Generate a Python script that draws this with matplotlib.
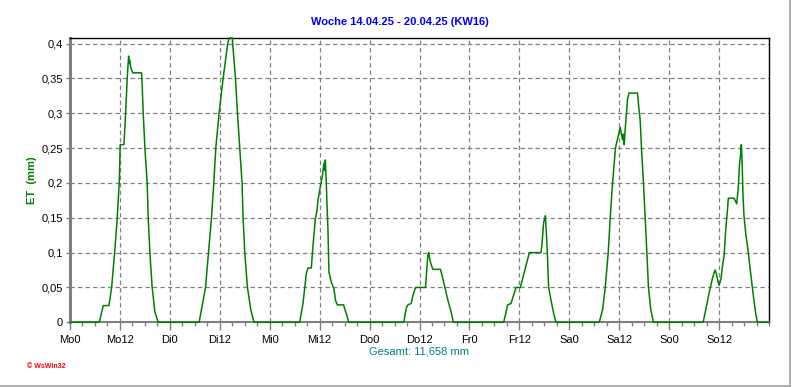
import matplotlib
matplotlib.use("Agg")
import matplotlib.pyplot as plt
from matplotlib.ticker import MultipleLocator, FuncFormatter
from matplotlib.lines import Line2D

plt.rcParams['font.family'] = ['Liberation Sans', 'DejaVu Sans']

# ---- data: (hour of day, ET mm) per day ----
day_names = ["Mo", "Di", "Mi", "Do", "Fr", "Sa", "So"]

mo_h = [7.03, 8.0, 9.36, 10.0, 10.73, 11.35, 11.83, 12.07, 12.96, 13.37, 13.75, 14.09, 14.23, 14.33, 14.64, 15.1, 17.2, 17.28, 17.6, 18.0, 18.55, 18.8, 19.2, 19.75, 20.4, 21.2]
mo_v = [0, 0.024, 0.024, 0.05, 0.1, 0.15, 0.2, 0.255, 0.255, 0.3, 0.35, 0.382, 0.372, 0.376, 0.365, 0.358, 0.358, 0.35, 0.3, 0.25, 0.2, 0.15, 0.1, 0.05, 0.015, 0]

di_h = [7.03, 8.57, 9.29, 10.0, 10.56, 11.04, 11.83, 12.8, 13.9, 14.3, 15.0, 15.1, 15.77, 16.25, 16.8, 17.35, 17.6, 18.0, 18.65, 19.45, 20.23]
di_v = [0, 0.05, 0.1, 0.15, 0.2, 0.25, 0.3, 0.35, 0.4, 0.408, 0.408, 0.4, 0.35, 0.3, 0.25, 0.2, 0.15, 0.1, 0.05, 0.018, 0]

mi_h = [7.2, 8.0, 8.8, 9.2, 10.0, 10.4, 10.96, 11.36, 11.6, 12.17, 12.65, 13.03, 13.2, 13.37, 13.6, 13.75, 14.0, 14.23, 14.8, 15.43, 15.84, 16.25, 17.76, 18.0, 18.65, 18.96]
mi_v = [0, 0.027, 0.07, 0.078, 0.078, 0.11, 0.148, 0.16, 0.175, 0.195, 0.21, 0.228, 0.218, 0.233, 0.2, 0.172, 0.133, 0.072, 0.058, 0.048, 0.031, 0.025, 0.025, 0.02, 0.008, 0]

do_h = [8.23, 8.8, 9.2, 10.0, 10.4, 11.04, 13.44, 13.75, 14.0, 14.23, 14.47, 14.8, 15.2, 17.04, 17.6, 18.16, 18.8, 19.6, 20.16]
do_v = [0, 0.02, 0.025, 0.027, 0.038, 0.05, 0.05, 0.075, 0.096, 0.1, 0.09, 0.083, 0.076, 0.076, 0.063, 0.049, 0.032, 0.015, 0]

fr_h = [8.23, 9.2, 10.0, 10.4, 11.2, 12.24, 14.4, 17.2, 17.45, 17.83, 18.24, 18.4, 18.55, 18.8, 19.03, 19.6, 20.23, 20.8]
fr_v = [0, 0.025, 0.027, 0.035, 0.05, 0.05, 0.1, 0.1, 0.113, 0.143, 0.153, 0.137, 0.122, 0.088, 0.05, 0.032, 0.013, 0]

sa_h = [7.2, 8.0, 8.64, 9.36, 9.84, 10.4, 11.1, 11.76, 12.24, 12.55, 12.8, 13.03, 13.2, 13.44, 13.75, 14.0, 14.33, 16.4, 16.63, 17.04, 17.35, 17.83, 18.24, 18.65, 19.03, 19.6, 20.23]
sa_v = [0, 0.018, 0.05, 0.1, 0.15, 0.2, 0.25, 0.267, 0.28, 0.27, 0.262, 0.27, 0.255, 0.277, 0.3, 0.32, 0.329, 0.329, 0.313, 0.29, 0.25, 0.2, 0.15, 0.1, 0.05, 0.018, 0]

so_h = [8.16, 8.8, 9.6, 10.4, 11.04, 11.36, 11.76, 12.0, 12.48, 12.8, 13.2, 13.6, 14.0, 14.23, 15.6, 16.0, 16.25, 16.63, 16.87, 17.2, 17.35, 17.52, 17.76, 18.0, 18.4, 19.03, 19.6, 20.16, 20.8, 21.2]
so_v = [0, 0.018, 0.042, 0.063, 0.075, 0.07, 0.058, 0.053, 0.063, 0.08, 0.095, 0.133, 0.16, 0.178, 0.178, 0.173, 0.17, 0.195, 0.223, 0.243, 0.255, 0.233, 0.18, 0.152, 0.128, 0.1, 0.07, 0.042, 0.013, 0]

days_h = [mo_h, di_h, mi_h, do_h, fr_h, sa_h, so_h]
days_v = [mo_v, di_v, mi_v, do_v, fr_v, sa_v, so_v]

tick_labels = [f"{d}{h}" for d in day_names for h in (0, 12)]
title = "Woche 14.04.25 - 20.04.25 (KW16)"
total_label = "Gesamt: 11,658 mm"

# build series in hours since Monday 0:00
xs = [0.0]
ys = [0.0]
for i, (hh, vv) in enumerate(zip(days_h, days_v)):
    xs += [i * 24 + h for h in hh]
    ys += list(vv)
xs.append(168.0)
ys.append(0.0)

W, H = 792, 387
fig = plt.figure(figsize=(W / 100, H / 100), dpi=100)
fig.patch.set_facecolor("white")

ax_l, ax_r, ax_t, ax_b = 70, 769, 38, 322.3
ax = fig.add_axes([ax_l / W, (H - ax_b) / H, (ax_r - ax_l) / W, (ax_b - ax_t) / H])
ax.set_facecolor("white")

ax.plot(xs, ys, color="#008000", lw=1.1, zorder=3, clip_on=False)

ax.set_xlim(0, 168)
ax.set_ylim(0, 0.408)

ax.xaxis.set_major_locator(MultipleLocator(12))
ax.xaxis.set_minor_locator(MultipleLocator(3))
ax.set_xticks(range(0, 168, 12))
ax.set_xticklabels(tick_labels)
ax.yaxis.set_major_locator(MultipleLocator(0.05))


def yfmt(v, pos):
    s = f"{v:.2f}".rstrip("0").rstrip(".")
    return s.replace(".", ",")


ax.yaxis.set_major_formatter(FuncFormatter(yfmt))

ax.grid(True, which="major", color="#808080", linestyle=(0, (3.5, 2.5)), lw=0.9, zorder=1)
ax.set_axisbelow(True)

for s in ("top", "right"):
    ax.spines[s].set_color("black")
    ax.spines[s].set_linewidth(1.0)
ax.spines["left"].set_color("#808080")
ax.spines["left"].set_linewidth(2.2)
ax.spines["bottom"].set_color("#808080")
ax.spines["bottom"].set_linewidth(1.5)

ax.tick_params(axis="x", which="major", direction="out", length=6, width=1, color="#808080",
               labelsize=8, pad=3, labelcolor="black")
ax.tick_params(axis="x", which="minor", direction="out", length=3, width=1, color="#808080")
ax.tick_params(axis="y", which="major", direction="out", length=3, width=1, color="#808080",
               labelsize=8, pad=2, labelcolor="black")

# texts
fig.text(400 / W, 1 - 22 / H, title, color="#0000FF", fontsize=8, fontweight="bold",
         ha="center", va="center")
fig.text(32 / W, 1 - 180 / H, "ET  (mm)", color="#008000", fontsize=8, fontweight="bold",
         rotation=90, ha="center", va="center")
fig.text(419 / W, 1 - 352 / H, total_label, color="#008080", fontsize=8, ha="center", va="center")
fig.text(27 / W, 1 - 367 / H, "© WsWin32", color="#FF0000", fontsize=5, fontweight="bold",
         ha="left", va="center")

# window frame lines (right and bottom)
fig.add_artist(Line2D([789.5 / W, 789.5 / W], [1, 1 - 385.5 / H], transform=fig.transFigure,
                      color="#a0a0a0", lw=1.2))
fig.add_artist(Line2D([0, 789.5 / W], [1 - 385.5 / H, 1 - 385.5 / H], transform=fig.transFigure,
                      color="#a0a0a0", lw=1.2))

fig.savefig("out.png", dpi=100, facecolor="white")
